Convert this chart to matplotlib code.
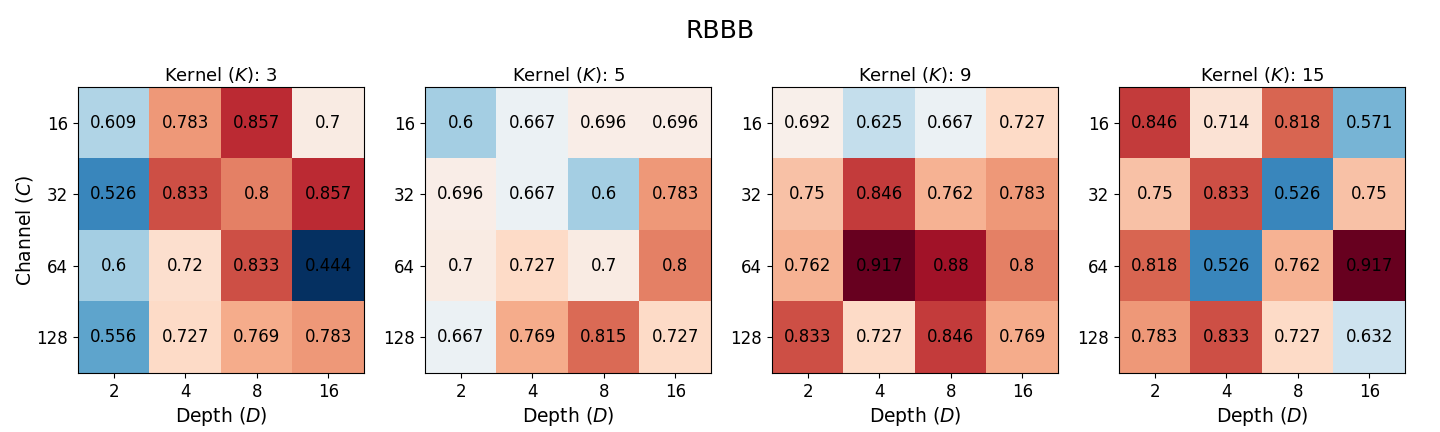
import numpy as np
import matplotlib
matplotlib.use("Agg")
import matplotlib.pyplot as plt

depths = ["2", "4", "8", "16"]
channels = ["16", "32", "64", "128"]
kernels = ["3", "5", "9", "15"]
k3 = [[0.609, 0.783, 0.857, 0.7],
      [0.526, 0.833, 0.8, 0.857],
      [0.6, 0.72, 0.833, 0.444],
      [0.556, 0.727, 0.769, 0.783]]
k5 = [[0.6, 0.667, 0.696, 0.696],
      [0.696, 0.667, 0.6, 0.783],
      [0.7, 0.727, 0.7, 0.8],
      [0.667, 0.769, 0.815, 0.727]]
k9 = [[0.692, 0.625, 0.667, 0.727],
      [0.75, 0.846, 0.762, 0.783],
      [0.762, 0.917, 0.88, 0.8],
      [0.833, 0.727, 0.846, 0.769]]
k15 = [[0.846, 0.714, 0.818, 0.571],
       [0.75, 0.833, 0.526, 0.75],
       [0.818, 0.526, 0.762, 0.917],
       [0.783, 0.833, 0.727, 0.632]]
grids = [k3, k5, k9, k15]

vmin = min(np.min(g) for g in grids)
vmax = max(np.max(g) for g in grids)

fig = plt.figure(figsize=(14.4, 4.32), dpi=100)
W, H = 1440, 432
lefts = [78, 425, 772, 1119]
size = 286
top = 87
for i, (g, k) in enumerate(zip(grids, kernels)):
    ax = fig.add_axes([lefts[i] / W, 1 - (top + size) / H, size / W, size / H])
    arr = np.array(g)
    ax.imshow(arr, cmap="RdBu_r", vmin=vmin, vmax=vmax, aspect="auto")
    for r in range(arr.shape[0]):
        for c in range(arr.shape[1]):
            ax.text(c, r, f"{arr[r, c]:g}", ha="center", va="center",
                    color="black", fontsize=12)
    ax.set_xticks(range(len(depths)))
    ax.set_xticklabels(depths, fontsize=12)
    ax.set_yticks(range(len(channels)))
    ax.set_yticklabels(channels, fontsize=12)
    ax.set_xlabel("Depth ($D$)", fontsize=13.5, labelpad=3)
    if i == 0:
        ax.set_ylabel("Channel ($C$)", fontsize=13.5, labelpad=1)
    ax.set_title(f"Kernel ($K$): {k}", fontsize=13, pad=4)

fig.suptitle("RBBB", fontsize=18, y=0.955)
fig.savefig("out.png", dpi=100)
